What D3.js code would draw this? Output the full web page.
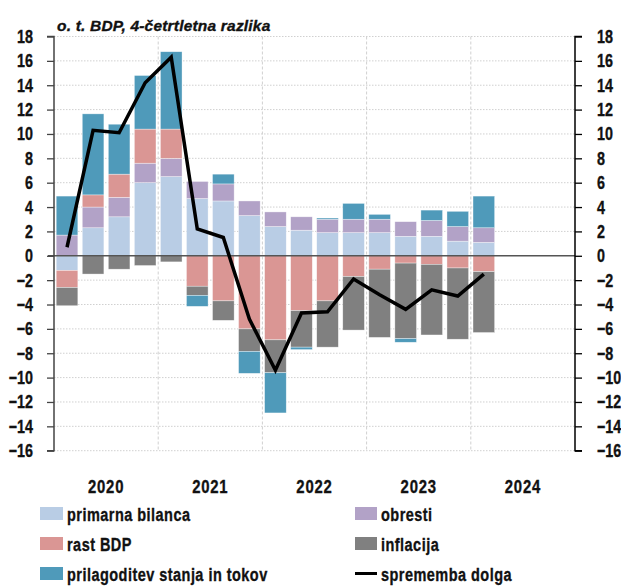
<!DOCTYPE html>
<html>
<head>
<meta charset="utf-8">
<script src="https://cdn.jsdelivr.net/npm/d3@7"></script>
<style>
  html, body { margin: 0; padding: 0; background: #fff; }
  svg text { font-family: "Liberation Sans", Arial, sans-serif; font-weight: bold; fill: #111; stroke: #111; stroke-width: 0.35px; }
</style>
</head>
<body>
<svg id="chart" width="621" height="586"></svg>
<script>
// ---- data ----
const quarters = ["2020Q1","2020Q2","2020Q3","2020Q4","2021Q1","2021Q2","2021Q3","2021Q4",
  "2022Q1","2022Q2","2022Q3","2022Q4","2023Q1","2023Q2","2023Q3","2023Q4","2024Q1"];
const allQuarters = ["2020Q1","2020Q2","2020Q3","2020Q4","2021Q1","2021Q2","2021Q3","2021Q4",
  "2022Q1","2022Q2","2022Q3","2022Q4","2023Q1","2023Q2","2023Q3","2023Q4",
  "2024Q1","2024Q2","2024Q3","2024Q4"];
const years = ["2020","2021","2022","2023","2024"];
const primarnaBilanca = [-1.2, 2.3, 3.2, 6.0, 6.5, 4.7, 4.5, 3.3, 2.4, 2.1, 1.9, 1.9, 1.9, 1.6, 1.6, 1.2, 1.1];
const obresti        = [1.7, 1.7, 1.6, 1.6, 1.5, 1.4, 1.4, 1.2, 1.2, 1.1, 1.1, 1.1, 1.1, 1.2, 1.3, 1.2, 1.2];
const rastBDP        = [-1.4, 1.0, 1.9, 2.8, 2.4, -2.5, -3.7, -6.0, -6.9, -4.5, -3.7, -1.7, -1.1, -0.6, -0.7, -1.0, -1.3];
const inflacija      = [-1.5, -1.5, -1.1, -0.8, -0.5, -0.75, -1.6, -1.85, -2.7, -3.0, -3.8, -4.4, -5.6, -6.2, -5.8, -5.85, -5.0];
const prilagoditev   = [3.2, 6.65, 4.1, 4.4, 6.35, -0.9, 0.8, -1.8, -3.3, -0.2, 0.1, 1.3, 0.4, -0.3, 0.85, 1.25, 2.6];
const sprememba      = [0.7, 10.3, 10.1, 14.2, 16.3, 2.2, 1.5, -5.2, -9.4, -4.7, -4.6, -1.9, -3.2, -4.4, -2.8, -3.3, -1.5];
const yTicks = [18,16,14,12,10,8,6,4,2,0,-2,-4,-6,-8,-10,-12,-14,-16];
const title = "o. t. BDP, 4-četrtletna razlika";

const seriesKeys = ["primarna bilanca","obresti","rast BDP","inflacija","prilagoditev stanja in tokov"];
const seriesVals = [primarnaBilanca, obresti, rastBDP, inflacija, prilagoditev];
const colors = {
  "primarna bilanca": "#b9cde5",
  "obresti": "#b2a2c7",
  "rast BDP": "#da9694",
  "inflacija": "#808080",
  "prilagoditev stanja in tokov": "#4f9aba"
};
const lineLabel = "sprememba dolga";

// ---- helpers ----
function condense(sel, sx) {
  sel.each(function () {
    const t = d3.select(this);
    const x0 = +t.attr("x") || 0;
    const y0 = +t.attr("y") || 0;
    t.attr("x", 0).attr("y", 0).attr("transform", `translate(${x0},${y0}) scale(${sx},1)`);
  });
}

// ---- layout ----
const svg = d3.select("#chart");
const L = 54, R = 575, T = 36.5, B = 450.7;

const x = d3.scaleBand().domain(allQuarters).range([L, R]).paddingInner(0.17).paddingOuter(0.085);
const y = d3.scaleLinear().domain([-16, 18]).range([B, T]);

const table = quarters.map((q, i) => {
  const row = { q };
  seriesKeys.forEach((k, j) => row[k] = seriesVals[j][i]);
  return row;
});
const stacked = d3.stack().keys(seriesKeys).offset(d3.stackOffsetDiverging)(table);

// horizontal gridlines
svg.append("g").selectAll("line").data(yTicks.filter(t => t !== 0)).join("line")
  .attr("x1", L).attr("x2", R).attr("y1", d => y(d)).attr("y2", d => y(d))
  .attr("stroke", "#d0d0d0").attr("stroke-width", 1).attr("stroke-dasharray", "1.5,1.5");

// vertical year separators
const yearStarts = years.slice(1).map(yr => yr + "Q1");
const yearEdge = q => x(q) - x.step() * x.paddingOuter();
svg.append("g").selectAll("line").data(yearStarts).join("line")
  .attr("x1", yearEdge).attr("x2", yearEdge)
  .attr("y1", T).attr("y2", B)
  .attr("stroke", "#d0d0d0").attr("stroke-width", 1).attr("stroke-dasharray", "3,2");

// bars
svg.append("g").selectAll("g").data(stacked).join("g")
  .attr("fill", d => colors[d.key])
  .selectAll("rect").data(d => d).join("rect")
  .attr("x", d => x(d.data.q))
  .attr("width", x.bandwidth())
  .attr("y", d => y(Math.max(d[0], d[1])))
  .attr("height", d => Math.abs(y(d[0]) - y(d[1])))
  .attr("stroke", "rgba(255,255,255,0.6)").attr("stroke-width", 0.6);

// zero line
svg.append("line").attr("x1", L - 6).attr("x2", R).attr("y1", y(0)).attr("y2", y(0))
  .attr("stroke", "#555").attr("stroke-width", 1.5);

// axes
const yAxisL = d3.axisLeft(y).tickValues(yTicks).tickSize(7).tickPadding(14).tickFormat(d3.format("d"));
const gL = svg.append("g").attr("transform", `translate(${L},0)`).call(yAxisL);
gL.select(".domain").attr("stroke", "#444").attr("stroke-width", 1.5).attr("d", `M-7,${y(18)}H0V${y(-16)}H-7`);
gL.selectAll(".tick line").attr("stroke", "#444").attr("stroke-width", 1.3);

const yAxisR = d3.axisRight(y).tickValues(yTicks).tickSize(7).tickPadding(15).tickFormat(d3.format("d"));
const gR = svg.append("g").attr("transform", `translate(${R},0)`).call(yAxisR);
gR.select(".domain").attr("stroke", "#000").attr("stroke-width", 1.5).attr("d", `M7,${y(18)}H0V${y(-16)}H7`);
gR.selectAll(".tick line").attr("stroke", "#000").attr("stroke-width", 1.3);

svg.selectAll(".tick text").attr("font-family", null).attr("font-size", null)
  .style("font-size", "18.6px").attr("fill", "#111");
condense(svg.selectAll(".tick text"), 0.77);

// year labels
const yl = svg.append("g").selectAll("text").data(years).join("text")
  .attr("x", d => yearEdge(d + "Q1") + x.step() * 2)
  .attr("y", 493)
  .attr("text-anchor", "middle")
  .style("font-size", "18.6px")
  .style("letter-spacing", "1px")
  .text(d => d);
condense(yl, 0.8);

// line
const line = d3.line().x((d, i) => x(quarters[i]) + x.bandwidth() / 2).y(d => y(d));
svg.append("path").datum(sprememba).attr("d", line)
  .attr("fill", "none").attr("stroke", "#000").attr("stroke-width", 3.5).attr("stroke-linejoin", "miter");

// title
svg.append("text").attr("x", 57).attr("y", 31).style("font-size", "15.5px").style("font-style", "italic")
  .style("letter-spacing", "0.2px").text(title);

// legend
const legendItems = [
  { key: "primarna bilanca", col: 0, row: 0 },
  { key: "obresti", col: 1, row: 0 },
  { key: "rast BDP", col: 0, row: 1 },
  { key: "inflacija", col: 1, row: 1 },
  { key: "prilagoditev stanja in tokov", col: 0, row: 2 },
  { key: lineLabel, col: 1, row: 2, isLine: true }
];
const colX = [40, 355];
const lg = svg.append("g");
legendItems.forEach(it => {
  const gx = colX[it.col], gy = 507 + it.row * 30;
  if (it.isLine) {
    lg.append("line").attr("x1", gx).attr("x2", gx + 22).attr("y1", gy + 6.5).attr("y2", gy + 6.5)
      .attr("stroke", "#000").attr("stroke-width", 3);
  } else {
    lg.append("rect").attr("x", gx).attr("y", gy).attr("width", it.col === 0 ? 23 : 22).attr("height", 13)
      .attr("fill", colors[it.key]);
  }
  const t = lg.append("text").attr("x", gx + (it.col === 0 ? 27 : 26)).attr("y", gy + 14)
    .style("font-size", "18.6px").style("letter-spacing", "0.6px").text(it.key);
  condense(t, 0.78);
});
</script>
</body>
</html>
